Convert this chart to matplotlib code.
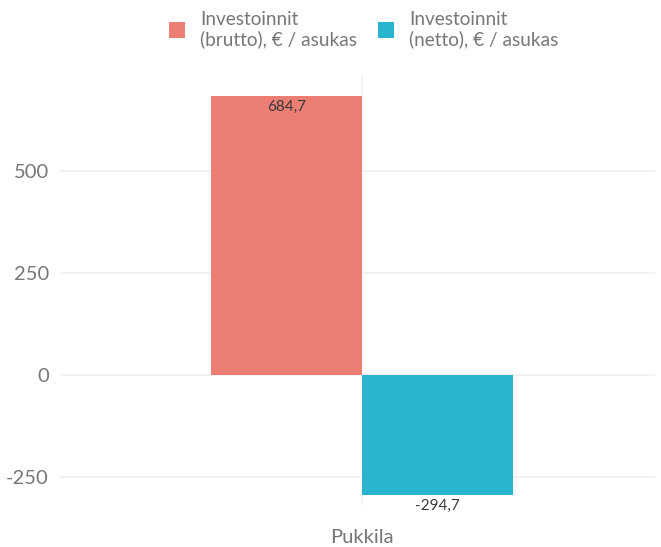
import matplotlib.pyplot as plt
from matplotlib.patches import Patch

# data per alue
alue = ['Pukkila']
sarjat = ['Investoinnit\n(brutto), € / asukas', 'Investoinnit\n(netto), € / asukas']
arvot = [684.7, -294.7]
varit = ['#EC7E74', '#29B5CE']

plt.rcParams['font.family'] = ['Lato', 'DejaVu Sans']

fig = plt.figure(figsize=(6.61, 5.47), dpi=100)
ax = fig.add_axes([60 / 661, 1 - 505 / 547, 595 / 661, 430 / 547])

leveys = 1.0
siirrot = [-leveys / 2, leveys / 2]
for arvo, vari, s in zip(arvot, varit, siirrot):
    ax.bar(0 + s, arvo, width=leveys, color=vari, zorder=2)
    teksti = f"{arvo:.1f}".replace('.', ',')
    if arvo >= 0:
        ax.text(0 + s, arvo - 10, teksti, ha='center', va='top', fontsize=11, color='#3a3a3a', zorder=3)
    else:
        ax.text(0 + s, arvo - 9, teksti, ha='center', va='top', fontsize=11, color='#3a3a3a', zorder=3)

ax.set_xlim(-2.0, 1.94)
ax.set_ylim(-318.6, 735.3)
ax.set_yticks([-250, 0, 250, 500])
ax.set_yticklabels(['-250', '0', '250', '500'])
ax.set_xticks([0])
ax.set_xticklabels(alue)

ax.grid(axis='y', color='#f0f0f0', linewidth=1.2, zorder=0)
ax.axvline(0, color='#f3f3f3', linewidth=1.2, zorder=0)
for sp in ax.spines.values():
    sp.set_visible(False)
ax.tick_params(axis='both', length=0, labelsize=14.5, colors='#777777')
ax.tick_params(axis='y', pad=8)
ax.tick_params(axis='x', pad=17)

kahvat = [Patch(facecolor=v, edgecolor='none') for v in varit]
leg = fig.legend(kahvat, sarjat, loc='upper center', bbox_to_anchor=(0.55, 1.012), ncol=2,
                 frameon=False, fontsize=13.7, labelcolor='#777777', handlelength=0.85,
                 handleheight=0.85, handletextpad=0.8, columnspacing=1.1, labelspacing=0)

fig.savefig('out.png', dpi=100)
